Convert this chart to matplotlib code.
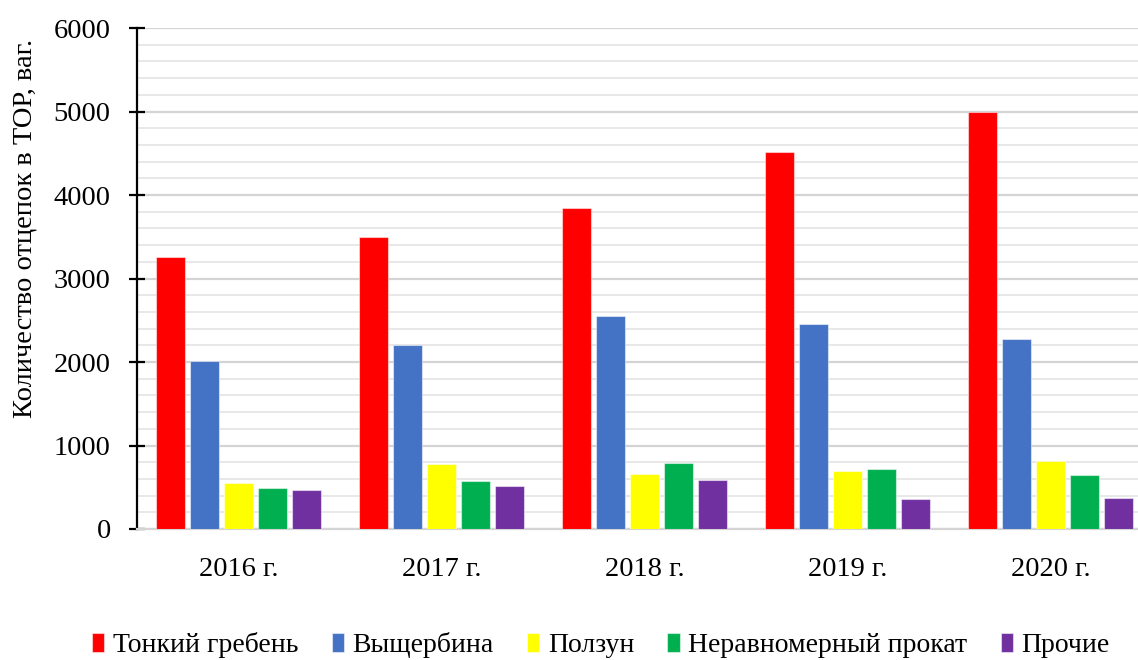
import numpy as np
import matplotlib
matplotlib.use("Agg")
from matplotlib import pyplot as plt
from matplotlib.ticker import MultipleLocator

years = ['2016 г.', '2017 г.', '2018 г.', '2019 г.', '2020 г.']
series_names = ['Тонкий гребень', 'Выщербина', 'Ползун', 'Неравномерный прокат', 'Прочие']

thin_flange  = [3260, 3500, 3845, 4515, 4990]
chipping     = [2010, 2200, 2550, 2460, 2270]
slider       = [545, 780, 660, 695, 815]
uneven_roll  = [490, 570, 790, 720, 645]
other        = [465, 520, 585, 355, 370]

colors = ['#ff0000', '#4472c4', '#ffff00', '#00b050', '#7030a0']

plt.rcParams['font.family'] = ['Liberation Serif', 'DejaVu Serif']

fig = plt.figure(figsize=(11.38, 6.6), dpi=100)
ax = fig.add_axes([0.1204, 0.1985, 0.892, 0.759])

x = np.arange(len(years))
pitch = 0.167
width = 0.143
values = [thin_flange, chipping, slider, uneven_roll, other]
for i, (vals, name, c) in enumerate(zip(values, series_names, colors)):
    ax.bar(x + (i - 2) * pitch, vals, width, color=c, label=name,
           edgecolor=(1, 1, 1, 0.5), linewidth=0.8, zorder=3)

ax.set_xlim(-0.5, 4.5)
ax.set_ylim(0, 6000)
ax.yaxis.set_major_locator(MultipleLocator(1000))
ax.yaxis.set_minor_locator(MultipleLocator(200))
ax.grid(axis='y', which='major', color='#d4d4d4', linewidth=1.6, zorder=0)
ax.grid(axis='y', which='minor', color='#e4e4e4', linewidth=1.2, zorder=0)
ax.set_axisbelow(True)

ax.set_xticks(x)
ax.set_xticklabels(years, fontsize=20.5)
ax.tick_params(axis='x', length=0, pad=20)
ax.tick_params(axis='y', which='major', direction='inout', length=12, width=1.6,
               labelsize=20.5, pad=13)
ax.tick_params(axis='y', which='minor', length=0)

for s in ['top', 'right']:
    ax.spines[s].set_visible(False)
ax.spines['left'].set_linewidth(1.6)
ax.spines['bottom'].set_color('#d4d4d4')
ax.spines['bottom'].set_linewidth(1.6)

ax.set_ylabel('Количество отцепок в ТОР, ваг.', fontsize=20.5)
ax.yaxis.set_label_coords(-0.098, 0.6)

fig.legend(loc='lower center', bbox_to_anchor=(0.528, -0.035), ncol=5,
           frameon=False, fontsize=20, handlelength=0.45, handleheight=0.7,
           handletextpad=0.3, columnspacing=1.2)

fig.savefig('out.png', dpi=100)
